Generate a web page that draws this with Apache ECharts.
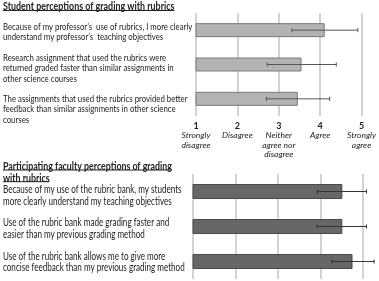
<!DOCTYPE html>
<html><head><meta charset="utf-8">
<script src="https://cdn.jsdelivr.net/npm/echarts@6/dist/echarts.min.js"></script>
<style>html,body{margin:0;padding:0;background:#fff}#c{width:379px;height:281px}</style>
</head><body><div id="c"></div>
<script>
var studentTitle = 'Student perceptions of grading with rubrics';
var facultyTitle = ['Participating faculty perceptions of grading', 'with rubrics'];
var studentCats = [
  ['Because of my professor\u2019s  use of rubrics, I more clearly', 'understand my professor\u2019s  teaching objectives'],
  ['Research assignment that used the rubrics were', 'returned graded faster than similar assignments in', 'other science courses'],
  ['The assignments that used the rubrics provided better', 'feedback than similar assignments in other science', 'courses']
];
var studentMeans = [4.11, 3.55, 3.46];
var studentLow = [3.32, 2.72, 2.70];
var studentHigh = [4.91, 4.39, 4.23];
var facultyCats = [
  ['Because of my use of the rubric bank, my students', 'more clearly understand my teaching objectives'],
  ['Use of the rubric bank made grading faster and', 'easier than my previous grading method'],
  ['Use of the rubric bank allows me to give more', 'concise feedback than my previous grading method']
];
var facultyMeans = [4.52, 4.52, 4.76];
var facultyLow = [3.93, 3.93, 4.27];
var facultyHigh = [5.09, 5.09, 5.27];
var tickNums = ['1', '2', '3', '4', '5'];
var tickTexts = [['Strongly', 'disagree'], ['Disagree'], ['Neither', 'agree nor', 'disagree'], ['Agree'], ['Strongly', 'agree']];

var FONT = 'Lato';
var chart = echarts.init(document.getElementById('c'));
var measureCtx = document.createElement('canvas').getContext('2d');

function errSeries(gi, low, high, color) {
  return {
    type: 'custom', xAxisIndex: gi, yAxisIndex: gi, clip: false, z: 5,
    data: low.map(function (l, i) { return [l, high[i], i]; }),
    encode: { x: [0, 1], y: 2 },
    renderItem: function (params, api) {
      var a = api.coord([api.value(0), api.value(2)]);
      var b = api.coord([api.value(1), api.value(2)]);
      var h = 2;
      var st = { stroke: color, lineWidth: 1 };
      return { type: 'group', children: [
        { type: 'line', shape: { x1: a[0], y1: a[1], x2: b[0], y2: b[1] }, style: st },
        { type: 'line', shape: { x1: a[0], y1: a[1] - h, x2: a[0], y2: a[1] + h }, style: st },
        { type: 'line', shape: { x1: b[0], y1: b[1] - h, x2: b[0], y2: b[1] + h }, style: st }
      ] };
    }
  };
}

var graphics = [];
function addLines(lines, x, y0, lh, size, weight, sx, underlineOffset) {
  lines.forEach(function (t, k) {
    var font = weight + ' ' + size + 'px ' + FONT;
    var y = y0 + k * lh;
    graphics.push({ type: 'text', x: x, y: y, scaleX: sx, style: {
      text: t, x: 0, y: 0, verticalAlign: 'top', fill: '#222', font: font
    } });
    if (underlineOffset) {
      measureCtx.font = font;
      var w = measureCtx.measureText(t).width * sx;
      graphics.push({ type: 'line', shape: { x1: x, y1: y + underlineOffset, x2: x + w, y2: y + underlineOffset },
        style: { stroke: '#222', lineWidth: 1 } });
    }
  });
}
addLines([studentTitle], 3, 1, 11, 11, 'bold', 0.81, 9.5);
var sTop = [22.5, 53.5, 94.5];
studentCats.forEach(function (c, i) { addLines(c, 3, sTop[i], 10.4, 9.3, 'normal', 0.84, 0); });
addLines(facultyTitle, 3, 161, 11.7, 11, 'bold', 0.8, 9);
var fTop = [184.5, 217.5, 251];
facultyCats.forEach(function (c, i) { addLines(c, 3, fTop[i], 11.3, 10.5, 'normal', 0.77, 0); });

var option = {
  animation: false,
  grid: [
    { left: 196, right: 15, top: 13, height: 103 },
    { left: 193, right: 16.3, top: 174, height: 105 }
  ],
  xAxis: [
    { gridIndex: 0, type: 'value', min: 1, max: 5, interval: 1,
      axisLine: { show: false }, axisTick: { show: false },
      splitLine: { show: true, lineStyle: { color: '#c4c4c4', width: 1.5 } },
      axisLabel: { margin: 5, verticalAlign: 'top', lineHeight: 9.5,
        formatter: function (v) {
          var i = Math.round(v) - 1;
          return '{n|' + tickNums[i] + '}\n' + tickTexts[i].map(function (t) { return '{t|' + t + '}'; }).join('\n');
        },
        rich: {
          n: { fontFamily: FONT, fontWeight: 'bold', fontSize: 9, color: '#222', lineHeight: 10 },
          t: { fontFamily: FONT, fontStyle: 'italic', fontSize: 8.5, color: '#222', lineHeight: 9.5 }
        }
      } },
    { gridIndex: 1, type: 'value', min: 1, max: 5, interval: 1,
      axisLine: { show: false }, axisTick: { show: false }, axisLabel: { show: false },
      splitLine: { show: true, lineStyle: { color: '#c4c4c4', width: 1.5 } } }
  ],
  yAxis: [
    { gridIndex: 0, type: 'category', inverse: true, data: studentCats.map(function (c, i) { return 's' + i; }),
      axisLine: { show: false }, axisTick: { show: false }, axisLabel: { show: false }, splitLine: { show: false } },
    { gridIndex: 1, type: 'category', inverse: true, data: facultyCats.map(function (c, i) { return 'f' + i; }),
      axisLine: { show: false }, axisTick: { show: false }, axisLabel: { show: false }, splitLine: { show: false } }
  ],
  series: [
    { type: 'bar', xAxisIndex: 0, yAxisIndex: 0, data: studentMeans, barWidth: 14,
      itemStyle: { color: '#b3b3b3', borderColor: '#7a7a7a', borderWidth: 1 } },
    errSeries(0, studentLow, studentHigh, '#555'),
    { type: 'bar', xAxisIndex: 1, yAxisIndex: 1, data: facultyMeans, barWidth: 15,
      itemStyle: { color: '#676767', borderColor: '#4a4a4a', borderWidth: 1 } },
    errSeries(1, facultyLow, facultyHigh, '#333')
  ],
  graphic: graphics
};
chart.setOption(option);
</script></body></html>
